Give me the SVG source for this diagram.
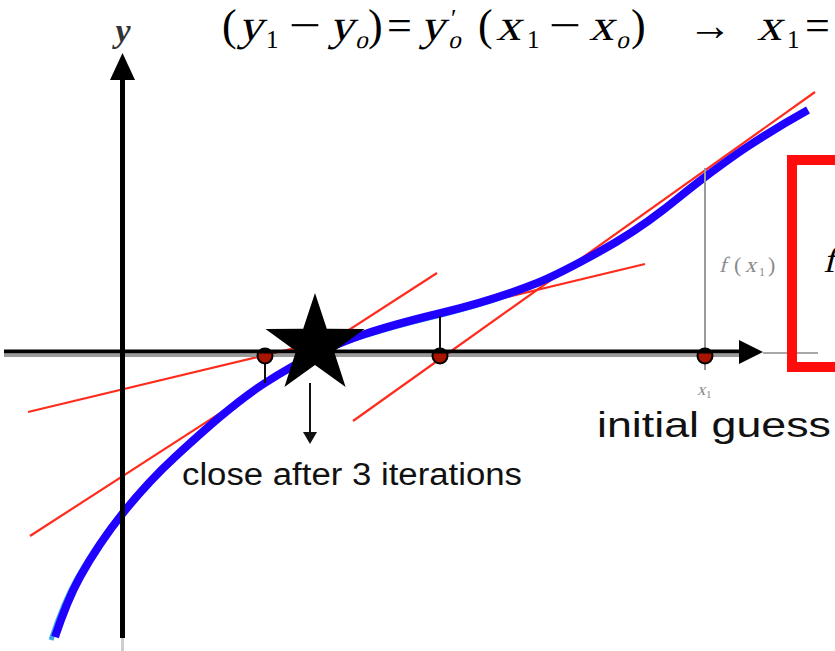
<svg xmlns="http://www.w3.org/2000/svg" width="835" height="651" viewBox="0 0 835 651">
<style>
.tan{stroke:#ff2b1c;stroke-width:2.2;fill:none}
.blue{stroke:#2000ff;stroke-width:8;fill:none}
.cyan{stroke:#38a8e8;stroke-width:5;fill:none}
.tick{stroke:#111;stroke-width:2}
.dot{fill:#a81400;stroke:#000;stroke-width:2}
.eq text{font-family:"Liberation Serif","Times New Roman",serif;font-size:44px;fill:#000}
.eq text.sub{font-size:25px}
.lbl{font-family:"Liberation Sans",Arial,sans-serif;fill:#111}
.gl{font-family:"Liberation Serif","Times New Roman",serif;fill:#8a8a8a}
</style>
<defs>
<path id="fcurve" d="M55,637 C63.3,612 71.7,592 80,577 C94.3,551.3 108.7,530.9 123,513 C140.3,491.4 157.7,472.9 175,457 C205,429.4 235,402.4 265,383 C298,361.7 332,344.9 365,334 C390.3,325.6 415.7,319.1 441,313 C473,305.3 505,295.8 537,283 C557,275 577,264 597,253 C619,240.9 641,227.2 663,210 C677,199.1 691,187.4 705,177 C719,166.6 733,156.2 747,147 C767.3,133.6 787.7,121.2 808,110"/>
</defs>

<g id="equation" class="eq">
<text x="222" y="40">(</text>
<text transform="translate(238,40) skewX(-14) scale(1.12,1)">y</text>
<text class="sub" x="266" y="48">1</text>
<text transform="translate(289,40) scale(1.3,1)">−</text>
<text transform="translate(329,40) skewX(-14) scale(1.12,1)">y</text>
<text class="sub" transform="translate(355,48) skewX(-14)">o</text>
<text x="368" y="40">)</text>
<text x="387" y="40">=</text>
<text transform="translate(420,40) skewX(-14) scale(1.12,1)">y</text>
<text class="sub" x="451" y="27">′</text>
<text class="sub" transform="translate(448,48) skewX(-14)">o</text>
<text x="478" y="40">(</text>
<text transform="translate(496,40) skewX(-14) scale(1.12,1)">x</text>
<text class="sub" x="527" y="48">1</text>
<text transform="translate(549,40) scale(1.3,1)">−</text>
<text transform="translate(589,40) skewX(-14) scale(1.12,1)">x</text>
<text class="sub" transform="translate(616,48) skewX(-14)">o</text>
<text x="631" y="40">)</text>
<text x="688" y="40">→</text>
<text transform="translate(757,40) skewX(-14) scale(1.12,1)">x</text>
<text class="sub" x="787" y="48">1</text>
<text x="805" y="40">=</text>
</g>

<g id="connectors">
<line x1="763" y1="353" x2="818" y2="353" stroke="#a8a8a8" stroke-width="2"/>
<line class="tan" x1="353" y1="421" x2="815" y2="92"/>
<line class="tan" x1="28" y1="412" x2="645" y2="264"/>
<line class="tan" x1="30" y1="536" x2="437" y2="273"/>
<use href="#fcurve" class="cyan" transform="translate(-4,3)"/>
<use href="#fcurve" class="blue"/>
<line x1="705" y1="168" x2="705" y2="370" stroke="#9a9a9a" stroke-width="2"/>
<line class="tick" x1="265" y1="356" x2="265" y2="383"/>
<line class="tick" x1="440" y1="316" x2="440" y2="352"/>
</g>

<g id="x-axis">
<line x1="4" y1="355.5" x2="742" y2="355.5" stroke="#9a9a9a" stroke-width="3"/>
<g id="markers">
<circle class="dot" cx="265" cy="356" r="7.5"/>
<circle class="dot" cx="440" cy="356" r="7.5"/>
<circle class="dot" cx="705" cy="356" r="7.5"/>
</g>
<line x1="4" y1="351.5" x2="742" y2="351.5" stroke="#000" stroke-width="4"/>
<polygon points="739,340 763,352 739,364" fill="#000"/>
</g>

<g id="y-axis">
<line x1="122.5" y1="638" x2="122.5" y2="651" stroke="#cfcfcf" stroke-width="3"/>
<line x1="122.5" y1="78" x2="122.5" y2="638" stroke="#000" stroke-width="5"/>
<polygon points="110,80 122.5,53 135,80" fill="#000"/>
<text x="123" y="42" text-anchor="middle" font-family="'Liberation Serif','DejaVu Serif',serif" font-style="italic" font-weight="bold" font-size="34" fill="#333">y</text>
</g>

<g id="root-star">
<polygon points="315,293 326.8,328.8 364.5,328.9 334,351.2 345.6,387.1 315,365 284.4,387.1 296,351.2 265.5,328.9 303.2,328.8" fill="#000"/>
</g>

<g id="note-close">
<line x1="310" y1="383" x2="310" y2="434" stroke="#111" stroke-width="2"/>
<polygon points="303,432 317,432 310,444" fill="#111"/>
<text class="lbl" x="182" y="485" font-size="31" textLength="340" lengthAdjust="spacingAndGlyphs">close after 3 iterations</text>
</g>

<g id="note-initial">
<text class="lbl" x="597" y="437" font-size="35" textLength="234" lengthAdjust="spacingAndGlyphs">initial guess</text>
</g>

<g id="labels">
<text class="gl" font-size="22" transform="translate(719,272) skewX(-14)">f</text>
<text class="gl" font-size="22" x="734" y="272">(</text>
<text class="gl" font-size="22" transform="translate(745,272) skewX(-14)">x</text>
<text class="gl" font-size="12" x="759" y="276">1</text>
<text class="gl" font-size="22" x="768" y="272">)</text>
<text class="gl" font-size="17" transform="translate(697,395) skewX(-14)">x</text>
<text class="gl" font-size="11" x="706" y="398">1</text>
</g>

<g id="red-box">
<rect x="792" y="160" width="80" height="207" fill="none" stroke="#ff0d0d" stroke-width="10"/>
<text font-family="'Liberation Serif','Times New Roman',serif" font-size="36" fill="#000" transform="translate(823,272) skewX(-14)">f</text>
</g>
</svg>
